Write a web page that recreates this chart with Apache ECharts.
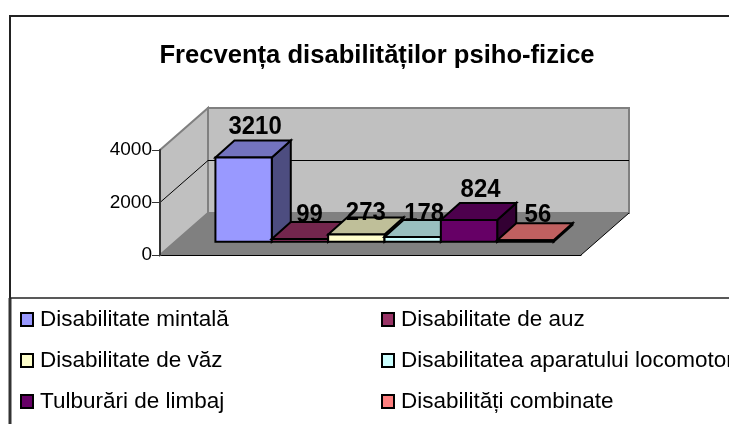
<!DOCTYPE html>
<html><head><meta charset="utf-8">
<style>html,body{margin:0;padding:0;background:#fff}#c{width:729px;height:424px}</style>
<script src="https://cdn.jsdelivr.net/npm/echarts@6/dist/echarts.min.js"></script>
</head><body><div id="c"></div>
<script>
const titleText = 'Frecvența disabilităților psiho-fizice';
const categoryNames = ['Disabilitate mintală','Disabilitate de auz','Disabilitate de văz','Disabilitatea aparatului locomotor','Tulburări de limbaj','Disabilități combinate'];
const values = [3210,99,273,178,824,56];
const palette = ['#9999FF','#993366','#FFFFCC','#CCFFFF','#660066','#FF8080'];
const yTicks = [0,2000,4000];
const labelLift = [14,7,4.5,6,13,8];
const labelNudge = [2,0,0,2,2,3];
const FONT = '"Liberation Sans", Arial, sans-serif';
const wallDx = 48, wallDy = -42, planeDx = 14, planeDy = -13.3, barDx = 19, barDy = -17;

function shade(hex, f){
  const n = parseInt(hex.slice(1),16);
  const c = [n>>16&255,n>>8&255,n&255].map(v=>Math.round(v*f));
  return 'rgb('+c.join(',')+')';
}
const chart = echarts.init(document.getElementById('c'),null,{renderer:'canvas'});

function renderWalls(params, api){
  const p0 = api.coord([0,0]), pm = api.coord([0,4000]);
  const w = api.size([1,0])[0];
  const x0 = p0[0]-w/2, x1 = x0+w, y0 = p0[1], yt = pm[1];
  const ch = [];
  ch.push({type:'polygon',shape:{points:[[x0,y0],[x0+wallDx,y0+wallDy],[x0+wallDx,yt+wallDy],[x0,yt]]},
    style:{fill:'#C0C0C0',stroke:'#808080',lineWidth:2}});
  ch.push({type:'rect',shape:{x:x0+wallDx,y:yt+wallDy,width:w,height:y0-yt},
    style:{fill:'#C0C0C0',stroke:'#808080',lineWidth:2}});
  yTicks.slice(1,-1).forEach(t=>{
    const y = api.coord([0,t])[1];
    ch.push({type:'polyline',shape:{points:[[x0,y],[x0+wallDx,y+wallDy],[x1+wallDx,y+wallDy]]},
      style:{fill:'none',stroke:'#000',lineWidth:1}});
  });
  ch.push({type:'polygon',shape:{points:[[x0,y0],[x1,y0],[x1+wallDx,y0+wallDy],[x0+wallDx,y0+wallDy]]},
    style:{fill:'#808080'}});
  ch.push({type:'line',shape:{x1:x1,y1:y0,x2:x1+wallDx,y2:y0+wallDy},style:{stroke:'#000',lineWidth:1}});
  return {type:'group',children:ch};
}
function renderBar(idx){
  return function(params, api){
    const v = api.value(1);
    const p0 = api.coord([0,0]), pv = api.coord([0,v]);
    const band = api.size([1,0])[0];
    const bw = band/7.47;
    const left = p0[0]+planeDx-3*bw+idx*bw, right = left+bw;
    const yb = p0[1]+planeDy, yt = pv[1]+planeDy;
    const col = api.visual('color');
    const stroke = {stroke:'#000',lineWidth:2,lineJoin:'miter'};
    return {type:'group',children:[
      {type:'polygon',z2:1,shape:{points:[[right,yb],[right+barDx,yb+barDy],[right+barDx,yt+barDy],[right,yt]]},
        style:Object.assign({fill:shade(col,0.5)},stroke)},
      {type:'polygon',z2:1,shape:{points:[[left,yt],[right,yt],[right+barDx,yt+barDy],[left+barDx,yt+barDy]]},
        style:Object.assign({fill:shade(col,0.75)},stroke)},
      {type:'rect',z2:1,shape:{x:left,y:yt,width:bw,height:yb-yt},
        style:Object.assign({fill:col},stroke)},
      {type:'text',z2:100,x:(left+right+barDx)/2+labelNudge[idx],y:yt+barDy-labelLift[idx],scaleX:0.92,
        style:{text:String(v),font:'bold 26px '+FONT,fill:'#000',align:'center',verticalAlign:'middle'}}
    ]};
  };
}
const series = [{type:'custom',name:'walls',z:1,silent:true,clip:false,renderItem:renderWalls,data:[[0,0]],encode:{x:0,y:1}}];
categoryNames.forEach((n,i)=>{
  series.push({type:'custom',name:n,z:2,clip:false,silent:true,renderItem:renderBar(i),
    itemStyle:{color:palette[i]},data:[[0,values[i]]],encode:{x:0,y:1}});
});
const legendBase = {orient:'vertical',icon:'rect',itemWidth:12,itemHeight:13,itemGap:18,selectedMode:false,
  padding:0,itemStyle:{borderColor:'#000',borderWidth:2},
  textStyle:{fontFamily:FONT,fontSize:22.5,color:'#000',padding:[0,0,3,2]}};
chart.setOption({
  animation:false,backgroundColor:'#fff',
  title:{text:titleText,left:377,top:43,textAlign:'center',padding:0,
    textStyle:{fontFamily:FONT,fontSize:25.6,fontWeight:'bold',color:'#000'}},
  legend:[
    Object.assign({},legendBase,{left:20,top:308,data:categoryNames.filter((_,i)=>i%2===0)}),
    Object.assign({},legendBase,{left:381,top:308,data:categoryNames.filter((_,i)=>i%2===1)})
  ],
  grid:{left:160,right:148,top:150,bottom:169,containLabel:false},
  xAxis:{type:'category',data:['Frecvența'],boundaryGap:true,
    axisLine:{show:true,lineStyle:{color:'#000',width:1}},axisTick:{show:false},axisLabel:{show:false}},
  yAxis:{type:'value',min:0,max:4000,interval:2000,z:5,
    axisLine:{show:true,lineStyle:{color:'#333',width:2}},
    axisTick:{show:true,length:8,lineStyle:{color:'#333',width:1}},
    axisLabel:{show:true,margin:8,fontFamily:FONT,fontSize:19,color:'#000',formatter:v=>String(v)},
    splitLine:{show:false}},
  graphic:[
    {type:'polyline',silent:true,shape:{points:[[10,298],[10,16],[729,16]]},style:{fill:'none',stroke:'#222',lineWidth:2}},
    {type:'line',silent:true,shape:{x1:10,y1:298,x2:10,y2:424},style:{stroke:'#333',lineWidth:3}},
    {type:'line',silent:true,shape:{x1:10,y1:298,x2:729,y2:298},style:{stroke:'#222',lineWidth:1.5}}
  ],
  series:series
});
</script></body></html>
